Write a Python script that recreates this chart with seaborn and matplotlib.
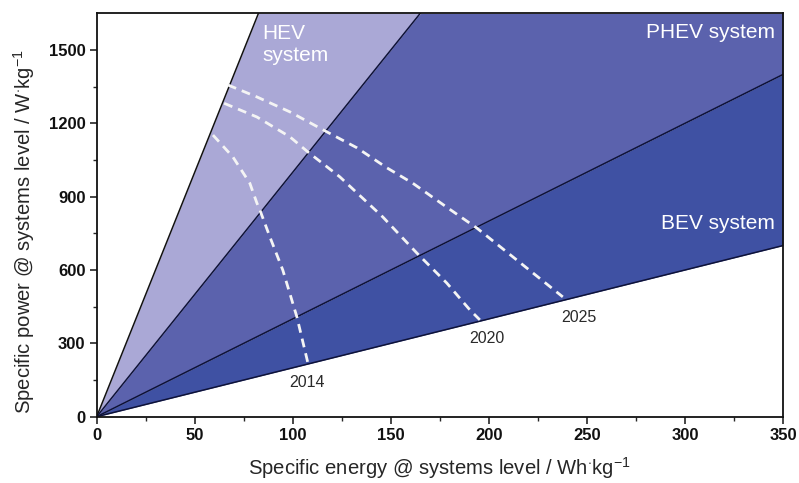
import numpy as np
import pandas as pd
import matplotlib
matplotlib.use("Agg")
import matplotlib.pyplot as plt
import seaborn as sns

# ---- data ----
# power-to-energy ratios (W/Wh) bounding the system regions
ratio_hev_max = 20
ratio_hev_phev = 10
ratio_phev_bev = 4
ratio_bev_min = 2

x_span = [0, 350]

year_2014_x = [59.3, 69.5, 78.1, 81.7, 83.2, 88.3, 94.9, 102.1, 107.7]
year_2014_y = [1152, 1062, 955, 874, 846, 736, 600, 408, 220]

year_2020_x = [65.0, 81.7, 98.5, 107.7, 124.0, 145.9, 163.2, 178.5, 190.3, 195.4]
year_2020_y = [1282, 1226, 1145, 1083, 981, 817, 670, 547, 437, 396]

year_2025_x = [66.9, 81.7, 98.5, 117.4, 132.7, 148.0, 161.2, 178.5, 193.8, 212.2, 237.7]
year_2025_y = [1357, 1308, 1247, 1165, 1100, 1018, 955, 857, 772, 654, 490]

year_labels = ["2014", "2020", "2025"]
x_ticks = [0, 50, 100, 150, 200, 250, 300, 350]
y_ticks = [0, 300, 600, 900, 1200, 1500]

# ---- style ----
sns.set_style("ticks")
plt.rcParams["font.family"] = ["Liberation Sans", "DejaVu Sans"]
plt.rcParams["mathtext.fontset"] = "custom"
plt.rcParams["mathtext.rm"] = "Liberation Sans"
plt.rcParams["mathtext.it"] = "Liberation Sans"

fig = plt.figure(figsize=(7.99, 4.83), dpi=100)
ax = fig.add_axes([0.121, 0.1373, 0.859, 0.8351])

c_hev = "#aaa8d6"
c_phev = "#5b62ad"
c_bev = "#3f51a3"

xs = np.linspace(x_span[0], x_span[1], 200)
ymax = 1650
y20 = np.minimum(ratio_hev_max * xs, ymax)
y10 = np.minimum(ratio_hev_phev * xs, ymax)
y4 = ratio_phev_bev * xs
y2 = ratio_bev_min * xs

ax.fill_between(xs, y10, y20, color=c_hev, lw=0)
ax.fill_between(xs, y4, y10, color=c_phev, lw=0)
ax.fill_between(xs, y2, y4, color=c_bev, lw=0)

for r, col in [(ratio_hev_max, "#111111"), (ratio_hev_phev, "#0e1238"),
               (ratio_phev_bev, "#0e1238"), (ratio_bev_min, "#0e1238")]:
    df = pd.DataFrame({"x": xs, "y": r * xs})
    sns.lineplot(data=df, x="x", y="y", ax=ax, color=col, lw=1.1)

for xv, yv in [(year_2014_x, year_2014_y), (year_2020_x, year_2020_y), (year_2025_x, year_2025_y)]:
    df = pd.DataFrame({"x": xv, "y": yv})
    sns.lineplot(data=df, x="x", y="y", ax=ax, color="#f4f4f4", lw=2.0,
                 linestyle=(0, (3.2, 2.2)), sort=False)

ax.set_xlim(0, 350)
ax.set_ylim(0, ymax)

# region labels
ax.text(84.5, 1605, "HEV\nsystem", color="white", fontsize=15, va="top", ha="left",
        linespacing=1.15)
ax.text(346, 1570, "PHEV system", color="white", fontsize=15, va="center", ha="right")
ax.text(346, 790, "BEV system", color="white", fontsize=15, va="center", ha="right")

# year labels
ax.text(107.5, 140, year_labels[0], color="#2a2a2a", fontsize=11.5, ha="center", va="center")
ax.text(199, 318, year_labels[1], color="#2a2a2a", fontsize=11.5, ha="center", va="center")
ax.text(246, 405, year_labels[2], color="#2a2a2a", fontsize=11.5, ha="center", va="center")

ax.set_xticks(x_ticks)
ax.set_yticks(y_ticks)
ax.set_xticks([25, 75, 125, 175, 225, 275, 325], minor=True)
ax.set_yticks([150, 450, 750, 1050, 1350], minor=True)
ax.tick_params(axis="both", which="major", direction="out", length=5, width=1.2,
               labelsize=12, pad=3, labelcolor="#111111")
ax.tick_params(axis="both", which="minor", direction="out", length=3, width=1.0)
for lab in ax.get_xticklabels() + ax.get_yticklabels():
    lab.set_fontweight("bold")

for s in ax.spines.values():
    s.set_linewidth(1.3)
    s.set_color("#111111")

ax.set_xlabel(r"Specific energy @ systems level / Wh$^{\cdot}$kg$^{-1}$", fontsize=14.6, labelpad=9)
ax.set_ylabel(r"Specific power @ systems level / W$^{\cdot}$kg$^{-1}$", fontsize=14.6, labelpad=6)
ax.yaxis.set_label_coords(-0.087, 0.46)

fig.savefig("out.png", dpi=100)
